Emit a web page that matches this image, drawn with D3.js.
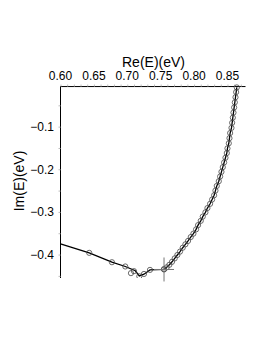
<!DOCTYPE html>
<html>
<head>
<meta charset="utf-8">
<script src="https://cdn.jsdelivr.net/npm/d3@7"></script>
<style>
body { margin: 0; background: #fff; }
text { font-family: "Liberation Sans", Arial, sans-serif; fill: #000; }
</style>
</head>
<body>
<svg id="chart" width="266" height="344"></svg>
<script>
// tick labels
var xTicks = [0.60, 0.65, 0.70, 0.75, 0.80, 0.85];
var yTicks = [-0.1, -0.2, -0.3, -0.4];

// left branch: line and its circles
var lineLeftRe = [0.600, 0.643, 0.677, 0.697, 0.712, 0.718, 0.725, 0.734, 0.755];
var lineLeftIm = [-0.3747, -0.396, -0.418, -0.428, -0.438, -0.450, -0.446, -0.436, -0.435];
var circLeftRe = [0.643, 0.677, 0.697, 0.7055, 0.710, 0.718, 0.725, 0.734, 0.755];
var circLeftIm = [-0.396, -0.418, -0.428, -0.4436, -0.439, -0.451, -0.4455, -0.436, -0.435];

// right branch (line and circles)
var rightRe = [0.755, 0.759, 0.763, 0.767, 0.771, 0.775, 0.779, 0.783, 0.787, 0.791, 0.795, 0.799,
  0.803, 0.806, 0.810, 0.813, 0.817, 0.820, 0.824, 0.827, 0.830,
  0.832, 0.834, 0.837, 0.839, 0.841,
  0.843, 0.845, 0.847, 0.849, 0.850,
  0.852, 0.853, 0.854, 0.856, 0.857, 0.858, 0.859, 0.860, 0.861, 0.862, 0.863, 0.864];
var rightIm = [-0.434, -0.430, -0.424, -0.417, -0.409, -0.401, -0.393, -0.384, -0.376, -0.368, -0.359, -0.351,
  -0.341, -0.331, -0.321, -0.311, -0.301, -0.291, -0.281, -0.271, -0.261,
  -0.250, -0.239, -0.228, -0.217, -0.206,
  -0.195, -0.184, -0.173, -0.162, -0.151,
  -0.139, -0.127, -0.115, -0.103, -0.091, -0.079, -0.067, -0.055, -0.043, -0.031, -0.019, -0.008];

// cross marker
var crossRe = [0.755];
var crossIm = [-0.435];

var svg = d3.select("#chart");

var x = d3.scaleLinear().domain([0.60, 0.877]).range([60.5, 245.5]);
var y = d3.scaleLinear().domain([0, -0.455]).range([84, 278]);
var yTop = -0.006;

svg.append("defs").append("clipPath").attr("id", "clip")
  .append("rect").attr("x", x(0.60)).attr("y", y(yTop) - 3)
  .attr("width", x(0.877) - x(0.60)).attr("height", y(-0.455) - y(yTop) + 3);

// axes
var axisTop = svg.append("g").attr("transform", "translate(0," + y(yTop) + ")");
axisTop.call(d3.axisTop(x).tickValues(d3.range(0.60, 0.8701, 0.01)).tickSize(2).tickFormat(""));
axisTop.select(".domain").attr("d", "M" + x(0.60) + ",0H" + x(0.877)).attr("stroke", "#000");
axisTop.selectAll(".tick line").attr("stroke", "#bbb");
svg.append("g").selectAll("text")
  .data(xTicks)
  .enter().append("text")
    .attr("x", function(d) { return x(d); })
    .attr("y", 79.5)
    .attr("text-anchor", "middle")
    .style("font-size", "12px")
    .text(function(d) { return d3.format(".2f")(d); });

var axisLeft = svg.append("g").attr("transform", "translate(" + x(0.60) + ",0)");
axisLeft.call(d3.axisLeft(y).tickValues(d3.range(-0.05, -0.455, -0.05)).tickSize(2).tickFormat(""));
axisLeft.select(".domain").attr("d", "M0," + y(yTop) + "V" + y(-0.455)).attr("stroke", "#000");
axisLeft.selectAll(".tick line").attr("stroke", "#bbb");
svg.append("g").selectAll("text")
  .data(yTicks)
  .enter().append("text")
    .attr("x", 54)
    .attr("y", function(d) { return y(d); })
    .attr("dy", "0.36em")
    .attr("text-anchor", "end")
    .style("font-size", "12px")
    .text(function(d) { return "\u2212" + d3.format(".1f")(-d); });

svg.append("text")
  .attr("x", 153.5).attr("y", 66.5)
  .attr("text-anchor", "middle")
  .style("font-size", "14px")
  .text("Re(E)(eV)");

svg.append("text")
  .attr("transform", "translate(24,181) rotate(-90)")
  .attr("text-anchor", "middle")
  .style("font-size", "14px")
  .text("Im(E)(eV)");

// data
var plot = svg.append("g").attr("clip-path", "url(#clip)");

var lineData = lineLeftRe.map(function(d, i) { return [d, lineLeftIm[i]]; })
  .concat(rightRe.map(function(d, i) { return [d, rightIm[i]]; }));
var circData = circLeftRe.map(function(d, i) { return [d, circLeftIm[i]]; })
  .concat(rightRe.map(function(d, i) { return [d, rightIm[i]]; }));

var line = d3.line()
  .x(function(d) { return x(d[0]); })
  .y(function(d) { return y(d[1]); });

plot.append("path")
  .datum(lineData)
  .attr("d", line)
  .attr("fill", "none")
  .attr("stroke", "#000")
  .attr("stroke-width", 1.3);

plot.selectAll(".pt")
  .data(circData)
  .enter().append("circle")
    .attr("class", "pt")
    .attr("cx", function(d) { return x(d[0]); })
    .attr("cy", function(d) { return y(d[1]); })
    .attr("r", 2.6)
    .attr("fill", "none")
    .attr("stroke", "#444")
    .attr("stroke-width", 0.8);

var cx = x(crossRe[0]), cy = y(crossIm[0]);
svg.append("path")
  .attr("d", "M" + (cx - 10) + "," + cy + "H" + (cx + 10) + "M" + cx + "," + (cy - 12) + "V" + (cy + 12))
  .attr("stroke", "#777")
  .attr("stroke-width", 1);
</script>
</body>
</html>
